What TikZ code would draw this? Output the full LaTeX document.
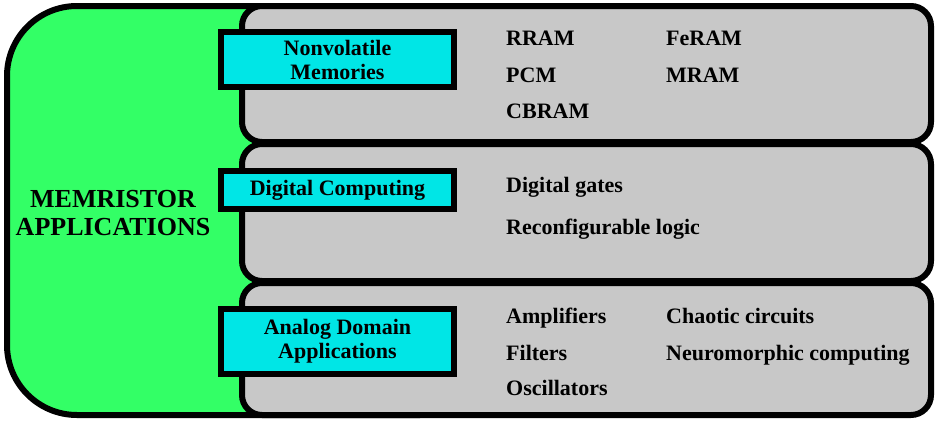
\documentclass[tikz,border=0pt]{standalone}
\usepackage{fontspec}
\setmainfont{Liberation Serif}
\definecolor{appgreen}{HTML}{33FF66}
\definecolor{panelgray}{HTML}{C8C8C8}
\definecolor{tagcyan}{HTML}{00E6E6}
\begin{document}
\begin{tikzpicture}[x=1pt,y=-1pt,
  panel/.style={draw=black,line width=6pt,fill=panelgray,rounded corners=20pt},
  tag/.style={draw=black,line width=6pt,fill=tagcyan,inner sep=0pt,
    minimum width=233pt,align=center,
    font=\fontsize{22}{24}\selectfont\bfseries},
  item/.style={anchor=base west,inner sep=0pt,
    font=\fontsize{22}{25}\selectfont\bfseries}]
\useasboundingbox (0,0) rectangle (938,421);

% green backdrop with rounded left corners
\filldraw[fill=appgreen,draw=black,line width=6pt,rounded corners=70pt]
  (420,6) -- (7,6) -- (7,415) -- (420,415);
\node[align=center,inner sep=0pt,font=\fontsize{26}{28}\selectfont\bfseries,anchor=base]
  (title) at (113,235) {MEMRISTOR\\APPLICATIONS};

% three gray panels
\draw[panel] (242,6) rectangle (931,142);
\draw[panel] (242,144) rectangle (931,281);
\draw[panel] (242,283) rectangle (931,415);

% category tags
\node[tag,minimum height=55pt] (nvm) at (337.5,59.5) {Nonvolatile\\Memories};
\node[tag,minimum height=38pt] (dig) at (337.5,190) {Digital Computing};
\node[tag,minimum height=65pt] (ana) at (337.5,341.5) {Analog Domain\\Applications};

% nonvolatile memories
\node[item] (rram) at (506,45) {RRAM};
\node[item] (feram) at (666,45) {FeRAM};
\node[item] (pcm) at (506,82) {PCM};
\node[item] (mram) at (666,82) {MRAM};
\node[item] (cbram) at (506,118) {CBRAM};

% digital computing
\node[item] (gates) at (506,192) {Digital gates};
\node[item] (reconf) at (506,234) {Reconfigurable logic};

% analog domain
\node[item] (amp) at (506,323) {Amplifiers};
\node[item] (chaos) at (666,323) {Chaotic circuits};
\node[item] (filt) at (506,360) {Filters};
\node[item] (neuro) at (666,360) {Neuromorphic computing};
\node[item] (osc) at (506,395) {Oscillators};
\end{tikzpicture}
\end{document}
